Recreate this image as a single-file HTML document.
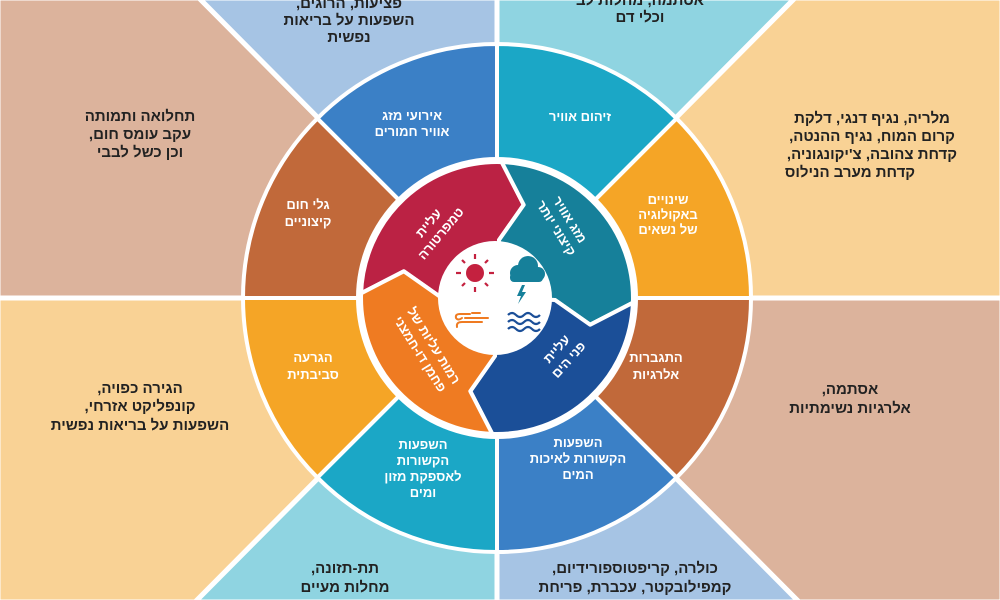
<!DOCTYPE html>
<html><head><meta charset="utf-8"><style>
html,body{margin:0;padding:0;background:#fff}
svg{display:block}
text{font-family:"Liberation Sans","DejaVu Sans",sans-serif;font-weight:bold;text-anchor:middle;direction:rtl;unicode-bidi:embed}
.d{fill:#222;font-size:15px}
.w{fill:#fff;font-size:13px}
</style></head><body>
<svg width="1000" height="600" viewBox="0 0 1000 600" xmlns="http://www.w3.org/2000/svg">
<g stroke="#fff" stroke-width="5">
<polygon points="497,298 497,-2 795,-2" fill="#8fd4e1"/>
<polygon points="497,298 795,-2 1002,-2 1002,298" fill="#f9d295"/>
<polygon points="497,298 1002,298 1002,602 799,602" fill="#dcb39c"/>
<polygon points="497,298 799,602 497,602" fill="#a6c4e4"/>
<polygon points="497,298 497,602 195,602" fill="#8fd4e1"/>
<polygon points="497,298 195,602 -2,602 -2,298" fill="#f9d295"/>
<polygon points="497,298 -2,298 -2,-2 199,-2" fill="#dcb39c"/>
<polygon points="497,298 199,-2 497,-2" fill="#a6c4e4"/>
</g>
<g stroke="#fff" stroke-width="4">
<path d="M497,298 L497,44 A254,254 0 0 1 676.6,118.4 Z" fill="#1ba7c6"/>
<path d="M497,298 L676.6,118.4 A254,254 0 0 1 751,298 Z" fill="#f5a526"/>
<path d="M497,298 L751,298 A254,254 0 0 1 676.6,477.6 Z" fill="#c1693a"/>
<path d="M497,298 L676.6,477.6 A254,254 0 0 1 497,552 Z" fill="#3b80c6"/>
<path d="M497,298 L497,552 A254,254 0 0 1 317.4,477.6 Z" fill="#1ba7c6"/>
<path d="M497,298 L317.4,477.6 A254,254 0 0 1 243,298 Z" fill="#f5a526"/>
<path d="M497,298 L243,298 A254,254 0 0 1 317.4,118.4 Z" fill="#c1693a"/>
<path d="M497,298 L317.4,118.4 A254,254 0 0 1 497,44 Z" fill="#3b80c6"/>
</g>
<circle cx="497" cy="298" r="141" fill="#fff"/>
<g stroke="#fff" stroke-width="4" stroke-linejoin="round">
<path d="M497,298 L439,296 L403.8,271.3 L361.1,293.3 A136,136 0 0 1 501.7,162.1 L523.7,204.8 L499,240 Z" fill="#bb2244"/>
<path d="M497,298 L499,240 L523.7,204.8 L501.7,162.1 A136,136 0 0 1 632.9,302.7 L590.2,324.7 L555,300 Z" fill="#16809a"/>
<path d="M497,298 L555,300 L590.2,324.7 L632.9,302.7 A136,136 0 0 1 492.3,433.9 L470.3,391.2 L495,356 Z" fill="#1b4f98"/>
<path d="M497,298 L495,356 L470.3,391.2 L492.3,433.9 A136,136 0 0 1 361.1,293.3 L403.8,271.3 L439,296 Z" fill="#ef7b22"/>
</g>
<circle cx="495" cy="298" r="57" fill="#fff"/>
<!-- icons -->
<circle cx="475" cy="273" r="9" fill="#c4213f"/>
<g stroke="#c4213f" stroke-width="2.2">
<line x1="475" y1="254" x2="475" y2="259"/><line x1="475" y1="287" x2="475" y2="292"/>
<line x1="456" y1="273" x2="461" y2="273"/><line x1="489" y1="273" x2="494" y2="273"/>
<line x1="462" y1="260" x2="465" y2="263"/><line x1="485" y1="283" x2="488" y2="286"/>
<line x1="488" y1="260" x2="485" y2="263"/><line x1="465" y1="283" x2="462" y2="286"/>
</g>
<g fill="#16809a">
<circle cx="518" cy="273" r="8"/><circle cx="528" cy="266" r="10"/><circle cx="538" cy="274" r="7"/>
<rect x="510" y="273" width="33" height="9" rx="4"/>
<polygon points="522,285 517,296 521,296 518,304 526,292 522,292 525,285"/>
</g>
<g stroke="#ef7b22" stroke-width="2" fill="none" stroke-linecap="round">
<path d="M470,314 L460,314 Q455,314 456,318 Q458,321 462,318"/>
<line x1="465" y1="318" x2="488" y2="318"/>
<path d="M482,322 L462,322 Q456,322 457,327"/>
<line x1="472" y1="313" x2="480" y2="313"/>
</g>
<g stroke="#1b4f98" stroke-width="2.2" fill="none">
<path d="M508,315 q4,-4 8,0 t8,0 t8,0 t8,0"/>
<path d="M508,322 q4,-4 8,0 t8,0 t8,0 t8,0"/>
<path d="M508,329 q4,-4 8,0 t8,0 t8,0 t8,0"/>
</g>
<!-- background texts -->
<text class="d" x="349" y="8">פציעות, הרוגים,</text>
<text class="d" x="349" y="25">השפעות על בריאות</text>
<text class="d" x="349" y="42">נפשית</text>
<text class="d" x="640" y="5">אסתמה, מחלות לב</text>
<text class="d" x="640" y="22">וכלי דם</text>
<text class="d" x="140" y="121">תחלואה ותמותה</text>
<text class="d" x="140" y="139">עקב עומס חום,</text>
<text class="d" x="140" y="157">וכן כשל לבבי</text>
<text class="d" x="872" y="123">מלריה, נגיף דנגי, דלקת</text>
<text class="d" x="872" y="141">קרום המוח, נגיף ההנטה,</text>
<text class="d" x="872" y="159">קדחת צהובה, צ'יקונגוניה,</text>
<text class="d" x="850" y="177">קדחת מערב הנילוס</text>
<text class="d" x="850" y="394">אסתמה,</text>
<text class="d" x="850" y="413">אלרגיות נשימתיות</text>
<text class="d" x="140" y="393">הגירה כפויה,</text>
<text class="d" x="140" y="411">קונפליקט אזרחי,</text>
<text class="d" x="140" y="430">השפעות על בריאות נפשית</text>
<text class="d" x="345" y="573">תת-תזונה,</text>
<text class="d" x="345" y="592">מחלות מעיים</text>
<text class="d" x="635" y="573">כולרה, קריפטוספורידיום,</text>
<text class="d" x="635" y="592">קמפילובקטר, עכברת, פריחת</text>
<!-- ring texts -->
<text class="w" x="412" y="120">אירועי מזג</text>
<text class="w" x="412" y="136">אוויר חמורים</text>
<text class="w" x="580" y="121">זיהום אוויר</text>
<text class="w" x="668" y="204">שינויים</text>
<text class="w" x="668" y="219">באקולוגיה</text>
<text class="w" x="668" y="234">של נשאים</text>
<text class="w" x="656" y="362">התגברות</text>
<text class="w" x="656" y="379">אלרגיות</text>
<text class="w" x="578" y="447">השפעות</text>
<text class="w" x="578" y="463">הקשורות לאיכות</text>
<text class="w" x="578" y="479">המים</text>
<text class="w" x="423" y="449">השפעות</text>
<text class="w" x="423" y="465">הקשורות</text>
<text class="w" x="423" y="481">לאספקת מזון</text>
<text class="w" x="423" y="497">ומים</text>
<text class="w" x="313" y="362">הגרעה</text>
<text class="w" x="313" y="379">סביבתית</text>
<text class="w" x="308" y="209">גלי חום</text>
<text class="w" x="308" y="226">קיצוניים</text>
<!-- hazard texts -->
<g transform="translate(432,226) rotate(-50)"><text class="w" x="0" y="0">עליית</text><text class="w" x="0" y="16">טמפרטורה</text></g>
<g transform="translate(566,222) rotate(58)"><text class="w" x="0" y="0">מזג אוויר</text><text class="w" x="0" y="16">קיצוני יותר</text></g>
<g transform="translate(560,352) rotate(-48)"><text class="w" x="0" y="0">עליית</text><text class="w" x="0" y="16">פני הים</text></g>
<g transform="translate(430,348) rotate(58)"><text class="w" x="0" y="0">רמות עליות של</text><text class="w" x="0" y="16">פחמן דו-חמצני</text></g>
</svg>
</body></html>
